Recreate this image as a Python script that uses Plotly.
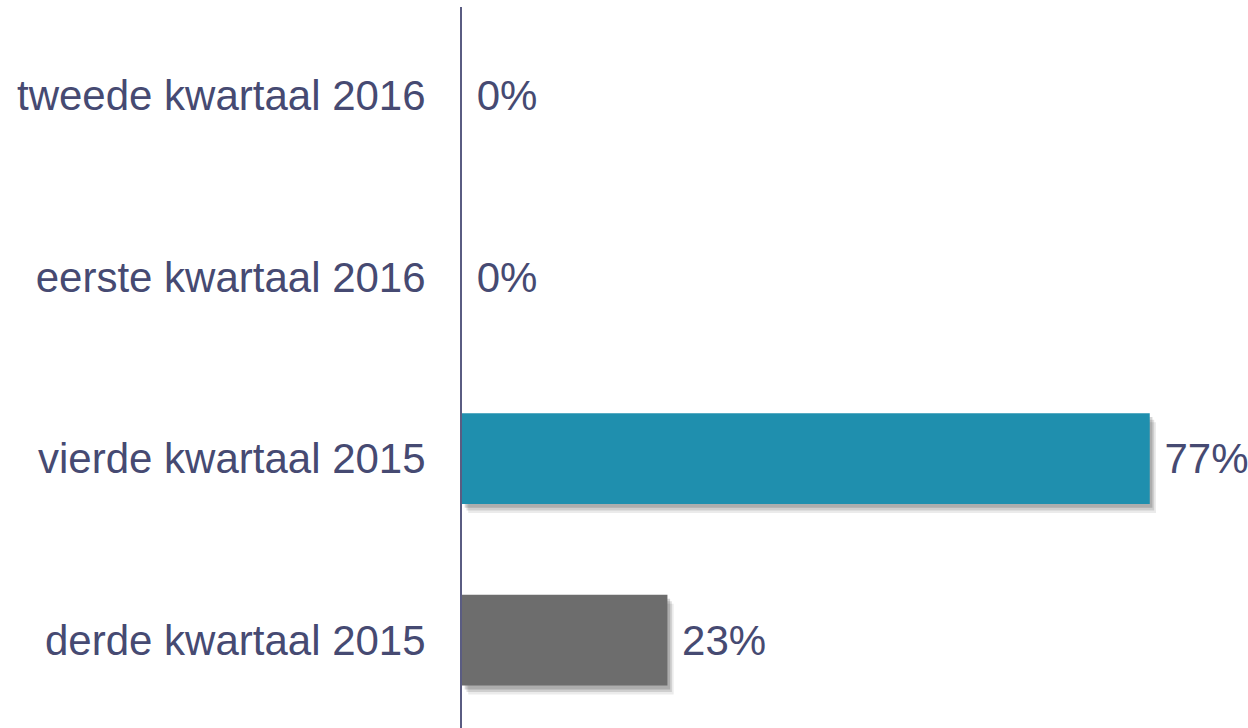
import plotly.graph_objects as go

# Categories listed bottom to top
kwartalen = ["derde kwartaal 2015", "vierde kwartaal 2015", "eerste kwartaal 2016", "tweede kwartaal 2016"]
percentages = [23, 77, 0, 0]
kleuren = ["#6d6d6d", "#1f8fae", "#1f8fae", "#1f8fae"]

TEXT_COLOR = "#464a72"
FONT = "Liberation Sans, Arial, sans-serif"
SIZE = 42

fig = go.Figure()

# soft drop shadow under the bars, layered for a blurred edge
for shift_y, shift_x, alpha in [(0.050, 0.7, 0.08), (0.036, 0.5, 0.12), (0.022, 0.3, 0.16)]:
    fig.add_trace(go.Bar(
        x=percentages, y=list(range(len(kwartalen))), orientation="h",
        base=shift_x, width=0.5, offset=-0.25 - shift_y,
        marker=dict(color=f"rgba(0,0,0,{alpha})", line=dict(width=0)),
        hoverinfo="skip", showlegend=False,
    ))

fig.add_trace(go.Bar(
    x=percentages, y=list(range(len(kwartalen))), orientation="h",
    width=0.5, offset=-0.25,
    marker=dict(color=kleuren, line=dict(width=0)),
    text=[f" {p}%" for p in percentages],
    textposition="outside", constraintext="none", cliponaxis=False,
    textfont=dict(family=FONT, size=SIZE, color=TEXT_COLOR),
    showlegend=False,
))

fig.update_layout(
    width=1248, height=728,
    margin=dict(l=462, r=0, t=7, b=0),
    paper_bgcolor="white", plot_bgcolor="white",
    barmode="overlay",
    font=dict(family=FONT, size=SIZE, color=TEXT_COLOR),
    xaxis=dict(range=[0, 88.0], visible=False, showgrid=False, zeroline=False, fixedrange=True),
    yaxis=dict(
        range=[-0.4848, 3.4876],
        tickmode="array", tickvals=list(range(len(kwartalen))), ticktext=kwartalen,
        showline=True, linecolor="#5a5c82", linewidth=2,
        showgrid=False, zeroline=False, ticks="",
        ticklabelstandoff=26,
        tickfont=dict(family=FONT, size=SIZE, color=TEXT_COLOR),
    ),
)

fig.write_html("out.html")
